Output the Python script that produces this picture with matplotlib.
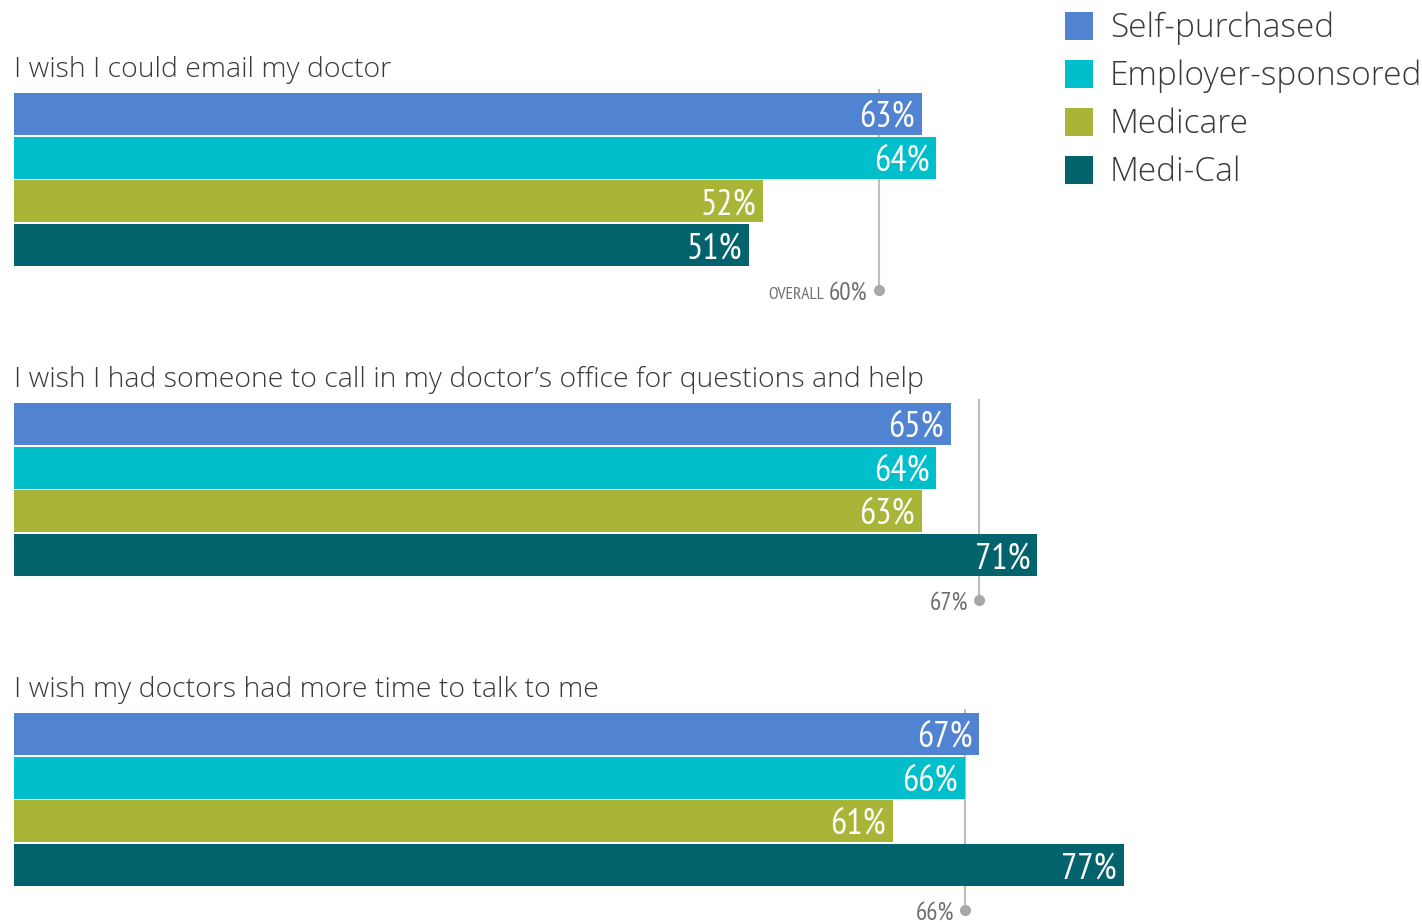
import matplotlib
matplotlib.use("Agg")
import matplotlib.pyplot as plt
import matplotlib.patches as mpatches

# survey data: share agreeing with each statement, by coverage type
QUESTIONS = [
    "I wish I could email my doctor",
    "I wish I had someone to call in my doctor\u2019s office for questions and help",
    "I wish my doctors had more time to talk to me",
]
SERIES = ["Self-purchased", "Employer-sponsored", "Medicare", "Medi-Cal"]
SELF_PURCHASED = [63, 65, 67]
EMPLOYER = [64, 64, 66]
MEDICARE = [52, 63, 61]
MEDI_CAL = [51, 71, 77]
OVERALL = [60, 67, 66]

COLORS = ["#5183D3", "#00BFCB", "#A9B537", "#02636C"]
TEXT_DARK = "#3a3a3a"
TEXT_GRAY = "#6d6e71"
LINE_GRAY = "#bdbdbd"

TITLE_FONT = ["Open Sans", "DejaVu Sans"]
NUM_FONT = ["PT Sans Narrow", "DejaVu Sans"]

W, H = 1422, 922
PX_PER_PCT = 14.41
X0 = 14
PT = 72 / 100  # points per pixel at dpi 100

fig = plt.figure(figsize=(W / 100, H / 100), dpi=100)
# x axis in percent, y axis in pixel rows so the layout stays simple
ax = fig.add_axes([X0 / W, 0, 1 - X0 / W, 1])
ax.set_xlim(0, (W - X0) / PX_PER_PCT)
ax.set_ylim(H, 0)
ax.axis("off")

values = [SELF_PURCHASED, EMPLOYER, MEDICARE, MEDI_CAL]
group_top = [93, 403, 713]
bar_h = 42
bar_pitch = 43.6

for g, q in enumerate(QUESTIONS):
    top = group_top[g]
    ax.text(0, top - 23, q, fontsize=20.5, color=TEXT_DARK, family=TITLE_FONT,
            fontweight="light", va="center", ha="left")
    for s in range(len(SERIES)):
        v = values[s][g]
        yc = top + s * bar_pitch + bar_h / 2
        ax.barh(yc, v, height=bar_h, left=0, color=COLORS[s], edgecolor="none", zorder=2)
        ax.annotate(f"{v}%", (v, yc), xytext=(-7 * PT, -4 * PT), textcoords="offset points",
                    ha="right", va="center", color="white", fontsize=26,
                    family=NUM_FONT, zorder=4)
    # overall marker: thin line behind the bars, ending in a dot below them
    ov = OVERALL[g]
    y_dot = top + 4 * bar_pitch + 23
    ax.plot([ov, ov], [top - 3, y_dot], color=LINE_GRAY, lw=1.5, zorder=1)
    ax.plot([ov], [y_dot], "o", color="#a8a8a8", ms=7, zorder=3)
    ax.annotate(f"{ov}%", (ov, y_dot), xytext=(-11 * PT, -9 * PT), textcoords="offset points",
                ha="right", va="baseline", color=TEXT_GRAY, fontsize=18, family=NUM_FONT)
    if g == 0:
        ax.annotate("OVERALL", (ov, y_dot), xytext=(-54 * PT, -9 * PT), textcoords="offset points",
                    ha="right", va="baseline", color=TEXT_GRAY, fontsize=12.5,
                    family=NUM_FONT)

# legend drawn by hand: square swatch plus label per series
for i, (c, lab) in enumerate(zip(COLORS, SERIES)):
    yc = 26 + i * 48
    fig.patches.append(mpatches.Rectangle((1065 / W, 1 - (yc + 14) / H), 28 / W, 28 / H,
                                          transform=fig.transFigure, color=c, lw=0))
    fig.text(1110 / W, 1 - (yc + 2) / H, lab, fontsize=24, color=TEXT_DARK, family=TITLE_FONT,
             fontweight="light", va="center", ha="left")

fig.savefig("out.png", dpi=100)
